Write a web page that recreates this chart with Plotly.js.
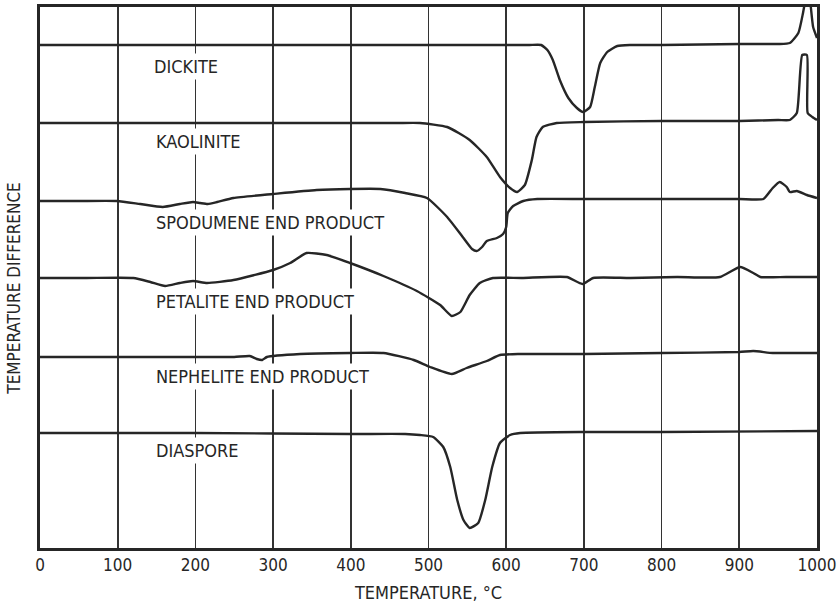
<!DOCTYPE html>
<html>
<head>
<meta charset="utf-8">
<script src="https://cdn.plot.ly/plotly-3.0.1.min.js"></script>
<style>html,body{margin:0;padding:0;background:#fff;}#chart{width:839px;height:604px;}</style>
</head>
<body>
<div id="chart"></div>
<script>
// Temperatures (°C) and trace deflections (arbitrary units, each curve drawn on its own offset baseline)
const dickiteT = [0, 200, 400, 600, 630, 645, 653, 660, 669, 680, 691, 699, 708, 714, 721, 730, 743, 760, 800, 900, 950, 965, 976, 982, 985, 988, 991, 995, 1000];
const dickiteY = [503, 503, 503, 503, 503, 503, 498, 488, 468, 450, 440, 436, 441, 461, 485, 496, 502, 503, 503, 504, 504, 505, 515, 535, 548, 558, 548, 521, 510];

const kaoliniteT = [0, 100, 200, 300, 400, 460, 489, 524, 553, 575, 592, 605, 614, 624, 633, 639, 647, 665, 700, 800, 900, 950, 965, 974, 981, 987, 988, 994, 1000];
const kaoliniteY = [425, 425, 425, 425, 425, 425, 425, 421, 408, 391, 371, 360, 356, 363, 388, 411, 421, 425, 426, 427, 427, 428, 428, 435, 493, 493, 435, 431, 428];

const spodumeneT = [0, 50, 99, 129, 158, 180, 197, 206, 216, 228, 249, 300, 356, 399, 438, 470, 498, 524, 544, 556, 562, 569, 575, 588, 596, 600, 602, 609, 622, 640, 700, 800, 900, 931, 943, 952, 961, 965, 974, 987, 1000];
const spodumeneY = [347, 347, 347, 344, 341, 344, 346, 345, 344, 346, 350, 354, 358, 359, 359, 355, 350, 331, 311, 299, 297, 301, 307, 310, 314, 321, 335, 342, 347, 349, 349, 349, 349, 349, 360, 366, 361, 356, 357, 353, 350];

const petaliteT = [0, 60, 120, 142, 161, 180, 197, 215, 249, 300, 322, 343, 369, 399, 442, 485, 515, 530, 541, 553, 566, 583, 620, 678, 698, 712, 760, 820, 875, 901, 918, 927, 960, 1000];
const petaliteY = [270, 270, 270, 266, 262, 265, 267, 265, 268, 278, 285, 295, 293, 285, 272, 257, 243, 232, 236, 253, 265, 270, 270, 271, 264, 270, 270, 271, 271, 281, 275, 271, 271, 271];

const nepheliteT = [0, 100, 200, 250, 270, 279, 286, 292, 335, 399, 442, 481, 502, 530, 549, 575, 592, 618, 700, 800, 900, 918, 943, 970, 1000];
const nepheliteY = [191, 191, 191, 191, 192, 189, 188, 191, 194, 195, 195, 188, 181, 174, 180, 187, 193, 194, 194, 195, 196, 197, 195, 195, 195];

const diasporeT = [0, 200, 400, 470, 489, 506, 519, 528, 537, 545, 553, 564, 573, 582, 592, 605, 618, 700, 800, 1000];
const diasporeY = [115, 115, 114, 114, 113, 111, 101, 81, 48, 28, 20, 25, 48, 81, 105, 113, 115, 116, 116, 117];

const labels = ["DICKITE", "KAOLINITE", "SPODUMENE END PRODUCT", "PETALITE END PRODUCT", "NEPHELITE END PRODUCT", "DIASPORE"];
const labelT = [143, 145, 146, 146, 146, 146];
const labelY = [482, 407, 326, 247, 172, 98];

const tickVals = [0, 100, 200, 300, 400, 500, 600, 700, 800, 900, 1000];

const series = [
  [dickiteT, dickiteY], [kaoliniteT, kaoliniteY], [spodumeneT, spodumeneY],
  [petaliteT, petaliteY], [nepheliteT, nepheliteY], [diasporeT, diasporeY]
];
const ink = '#262626';
const traces = series.map((s, i) => ({
  x: s[0], y: s[1], type: 'scatter', mode: 'lines', name: labels[i],
  line: {color: ink, width: 2.4, shape: 'spline', smoothing: 0.5},
  hoverinfo: 'skip'
}));

const font = "'DejaVu Sans Condensed', 'DejaVu Sans', sans-serif";
const annotations = labels.map((t, i) => ({
  x: labelT[i], y: labelY[i], xref: 'x', yref: 'y', text: t, showarrow: false,
  xanchor: 'left', yanchor: 'middle', bgcolor: '#ffffff', borderpad: 2,
  font: {family: font, size: 18, color: ink}
}));
annotations.push({
  xref: 'paper', yref: 'paper', x: -0.033, y: 0.48, text: 'TEMPERATURE DIFFERENCE',
  textangle: -90, showarrow: false, xanchor: 'center', yanchor: 'middle',
  font: {family: font, size: 17, color: ink}
});

const layout = {
  width: 839, height: 604,
  margin: {l: 40, r: 22, t: 7, b: 56},
  paper_bgcolor: '#ffffff', plot_bgcolor: '#ffffff',
  showlegend: false,
  xaxis: {
    range: [0, 1000], tickvals: tickVals, ticktext: tickVals.map(String),
    showgrid: true, gridcolor: '#333333', gridwidth: 1.6,
    showline: true, mirror: true, linecolor: ink, linewidth: 3,
    ticks: '', zeroline: false,
    tickfont: {family: font, size: 17, color: ink},
    title: {text: 'TEMPERATURE, °C', font: {family: font, size: 18, color: ink}, standoff: 12}
  },
  yaxis: {
    range: [0, 541], showgrid: false, zeroline: false,
    showticklabels: false, ticks: '',
    showline: true, mirror: true, linecolor: ink, linewidth: 3
  },
  annotations: annotations
};

Plotly.newPlot('chart', traces, layout, {staticPlot: true, displayModeBar: false});
</script>
</body>
</html>
